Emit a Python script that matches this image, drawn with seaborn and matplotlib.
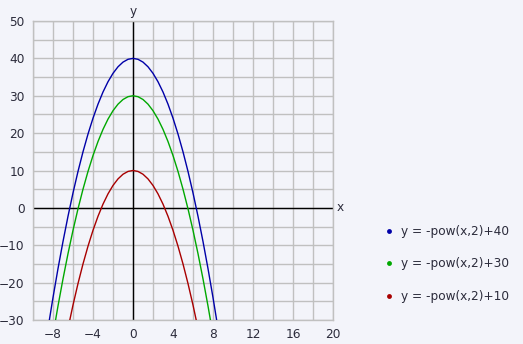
import matplotlib
matplotlib.use("Agg")
import matplotlib.pyplot as plt
from matplotlib.lines import Line2D
import seaborn as sns
import pandas as pd

# sampled points of the curves
x_vals = [-8.5, -8, -7.5, -7, -6.5, -6, -5.5, -5, -4.5, -4, -3.5, -3, -2.5, -2, -1.5, -1, -0.5,
          0, 0.5, 1, 1.5, 2, 2.5, 3, 3.5, 4, 4.5, 5, 5.5, 6, 6.5, 7, 7.5, 8, 8.5]
y_40 = [-32.25, -24, -16.25, -9, -2.25, 4, 9.75, 15, 19.75, 24, 27.75, 31, 33.75, 36, 37.75, 39, 39.75,
        40, 39.75, 39, 37.75, 36, 33.75, 31, 27.75, 24, 19.75, 15, 9.75, 4, -2.25, -9, -16.25, -24, -32.25]
y_30 = [-42.25, -34, -26.25, -19, -12.25, -6, -0.25, 5, 9.75, 14, 17.75, 21, 23.75, 26, 27.75, 29, 29.75,
        30, 29.75, 29, 27.75, 26, 23.75, 21, 17.75, 14, 9.75, 5, -0.25, -6, -12.25, -19, -26.25, -34, -42.25]
y_10 = [-62.25, -54, -46.25, -39, -32.25, -26, -20.25, -15, -10.25, -6, -2.25, 1, 3.75, 6, 7.75, 9, 9.75,
        10, 9.75, 9, 7.75, 6, 3.75, 1, -2.25, -6, -10.25, -15, -20.25, -26, -32.25, -39, -46.25, -54, -62.25]
series_labels = ["y = -pow(x,2)+40", "y = -pow(x,2)+30", "y = -pow(x,2)+10"]
series_colors = ["#0000a8", "#00a800", "#a80000"]
x_tick_labels = [-8, -4, 0, 4, 8, 12, 16, 20]
y_tick_labels = [-30, -20, -10, 0, 10, 20, 30, 40, 50]

frames = []
for lab, ys in zip(series_labels, [y_40, y_30, y_10]):
    frames.append(pd.DataFrame({"x": x_vals, "y": ys, "series": lab}))
df = pd.concat(frames, ignore_index=True)

bg = "#f3f4fa"
text_c = "#2b2b3b"
grid_c = "#c0c0c0"
fs = 8.7

sns.set_theme(style="white")
plt.rcParams["font.family"] = ["DejaVu Sans"]

fig = plt.figure(figsize=(5.23, 3.44), dpi=100, facecolor=bg)
ax = fig.add_axes([33 / 523, 24 / 344, 300 / 523, 299 / 344])
ax.set_facecolor(bg)

sns.lineplot(data=df, x="x", y="y", hue="series", palette=dict(zip(series_labels, series_colors)),
             sort=False, linewidth=1.0, legend=False, ax=ax, zorder=3)

ax.set_xlim(-10, 20)
ax.set_ylim(-30, 50)
ax.set_xticks(x_tick_labels)
ax.set_xticks(list(range(-10, 21, 2)), minor=True)
ax.set_yticks(y_tick_labels)
ax.set_yticks(list(range(-30, 51, 5)), minor=True)
ax.grid(True, which="both", color=grid_c, linewidth=1.0, zorder=0)
ax.set_axisbelow(True)
ax.tick_params(which="both", length=0, labelsize=fs, colors=text_c, pad=6)
ax.set_xlabel("")
ax.set_ylabel("")
for s in ax.spines.values():
    s.set_color(grid_c)
    s.set_linewidth(1.0)

ax.axhline(0, color="black", linewidth=1.0, zorder=2)
ax.axvline(0, color="black", linewidth=1.0, zorder=2)
ax.text(20.4, 0, "x", ha="left", va="center", fontsize=fs, color=text_c)
ax.text(0, 50.8, "y", ha="center", va="bottom", fontsize=fs, color=text_c)

handles = [Line2D([], [], linestyle="none", marker="o", markersize=3.5, color=c, markeredgewidth=0)
           for c in series_colors]
fig.legend(handles, series_labels, loc="upper left", bbox_to_anchor=(372 / 523, 1 - 214 / 344),
           frameon=False, fontsize=fs, labelcolor=text_c, labelspacing=1.62, handlelength=1.0,
           handletextpad=0.5)

fig.savefig("out.png", dpi=100, facecolor=bg)
